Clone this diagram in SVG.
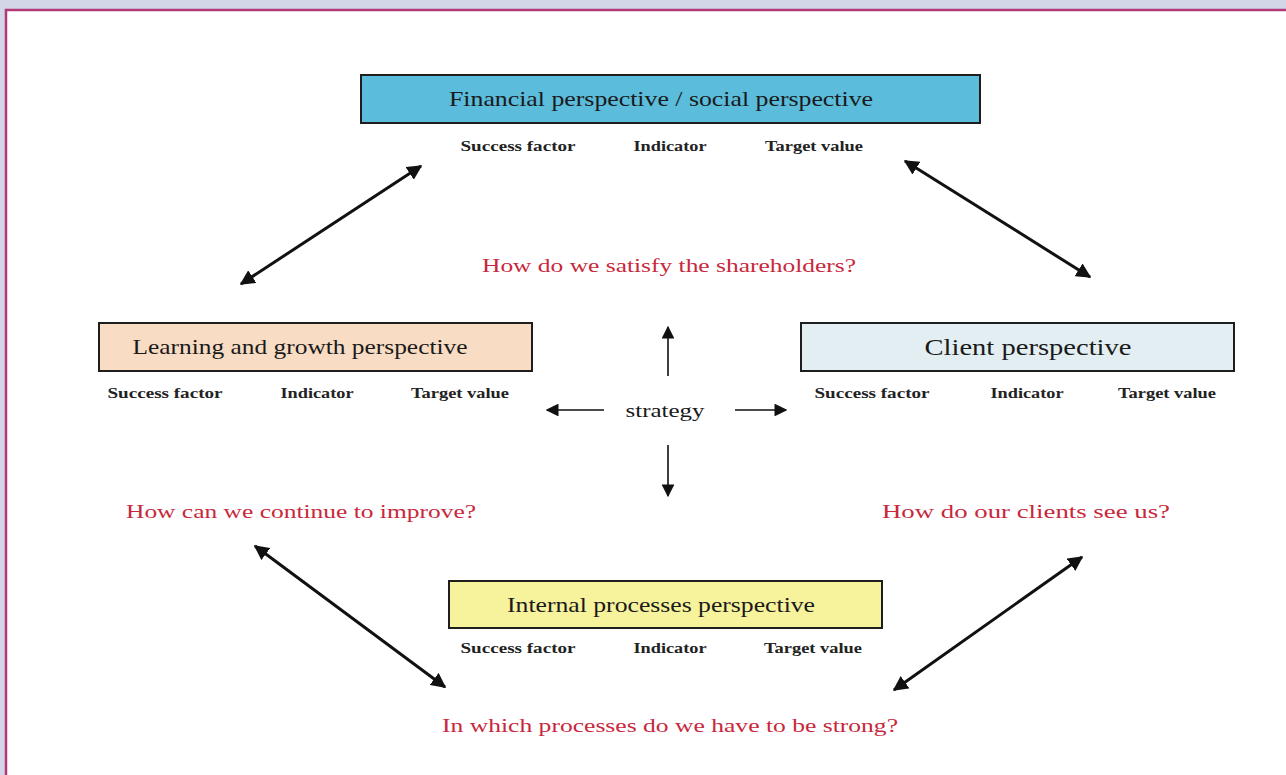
<svg xmlns="http://www.w3.org/2000/svg" width="1286" height="775" viewBox="0 0 1286 775">
<style>
.box{stroke:#1e1e1e;stroke-width:2}
.title{font-family:"Liberation Serif",serif;font-size:21px;fill:#1a1a1a;text-anchor:middle}
.sub{font-family:"Liberation Serif",serif;font-size:15px;font-weight:bold;fill:#222;text-anchor:middle}
.q{font-family:"Liberation Serif",serif;font-size:19px;fill:#c8283c;text-anchor:middle}
.dbl{stroke:#111;stroke-width:3;fill:none;marker-start:url(#ah);marker-end:url(#ah)}
.thin{stroke:#111;stroke-width:1.6;fill:none;marker-end:url(#ah2)}
</style>
<defs>
<marker id="ah" viewBox="0 0 10 10" refX="9" refY="5" markerWidth="5" markerHeight="5" orient="auto-start-reverse" markerUnits="strokeWidth">
<path d="M0,0 L10,5 L0,10 Z" fill="#111"/>
</marker>
<marker id="ah2" viewBox="0 0 10 10" refX="9" refY="5" markerWidth="8" markerHeight="8" orient="auto-start-reverse" markerUnits="strokeWidth">
<path d="M0,0 L10,5 L0,10 Z" fill="#111"/>
</marker>
</defs>
<rect x="0" y="0" width="1286" height="775" fill="#d3d6e6"/>
<rect x="6" y="10" width="1290" height="780" fill="#ffffff" stroke="#b03a78" stroke-width="2.5"/>

<g id="financial">
<rect class="box" x="361" y="75" width="619" height="48" fill="#5bbcdc"/>
<text class="title" x="661" y="106" textLength="424" lengthAdjust="spacingAndGlyphs">Financial perspective / social perspective</text>
<text class="sub" x="518" y="151" textLength="115" lengthAdjust="spacingAndGlyphs">Success factor</text>
<text class="sub" x="670" y="151" textLength="73" lengthAdjust="spacingAndGlyphs">Indicator</text>
<text class="sub" x="814" y="151" textLength="98" lengthAdjust="spacingAndGlyphs">Target value</text>
</g>

<g id="learning">
<rect class="box" x="99" y="323" width="433" height="48" fill="#f8dcc4"/>
<text class="title" x="300" y="354" textLength="335" lengthAdjust="spacingAndGlyphs">Learning and growth perspective</text>
<text class="sub" x="165" y="398" textLength="115" lengthAdjust="spacingAndGlyphs">Success factor</text>
<text class="sub" x="317" y="398" textLength="73" lengthAdjust="spacingAndGlyphs">Indicator</text>
<text class="sub" x="460" y="398" textLength="98" lengthAdjust="spacingAndGlyphs">Target value</text>
</g>

<g id="client">
<rect class="box" x="801" y="323" width="433" height="48" fill="#e2eef2"/>
<text class="title" x="1028" y="355" style="font-size:24px" textLength="207" lengthAdjust="spacingAndGlyphs">Client perspective</text>
<text class="sub" x="872" y="398" textLength="115" lengthAdjust="spacingAndGlyphs">Success factor</text>
<text class="sub" x="1027" y="398" textLength="73" lengthAdjust="spacingAndGlyphs">Indicator</text>
<text class="sub" x="1167" y="398" textLength="98" lengthAdjust="spacingAndGlyphs">Target value</text>
</g>

<g id="internal">
<rect class="box" x="449" y="581" width="433" height="47" fill="#f7f29c"/>
<text class="title" x="661" y="612" textLength="308" lengthAdjust="spacingAndGlyphs">Internal processes perspective</text>
<text class="sub" x="518" y="653" textLength="115" lengthAdjust="spacingAndGlyphs">Success factor</text>
<text class="sub" x="670" y="653" textLength="73" lengthAdjust="spacingAndGlyphs">Indicator</text>
<text class="sub" x="813" y="653" textLength="98" lengthAdjust="spacingAndGlyphs">Target value</text>
</g>

<g id="strategy">
<text class="title" x="665" y="417" style="font-size:19px" textLength="79" lengthAdjust="spacingAndGlyphs">strategy</text>
</g>

<g id="questions">
<text class="q" x="669" y="272" textLength="374" lengthAdjust="spacingAndGlyphs">How do we satisfy the shareholders?</text>
<text class="q" x="301" y="518" textLength="350" lengthAdjust="spacingAndGlyphs">How can we continue to improve?</text>
<text class="q" x="1026" y="518" textLength="288" lengthAdjust="spacingAndGlyphs">How do our clients see us?</text>
<text class="q" x="670" y="732" textLength="456" lengthAdjust="spacingAndGlyphs">In which processes do we have to be strong?</text>
</g>

<g id="connectors">
<line class="dbl" x1="241" y1="284" x2="421" y2="166"/>
<line class="dbl" x1="905" y1="161" x2="1090" y2="277"/>
<line class="dbl" x1="255" y1="546" x2="445" y2="687"/>
<line class="dbl" x1="1082" y1="557" x2="894" y2="690"/>
<line class="thin" x1="668" y1="376" x2="668" y2="327"/>
<line class="thin" x1="668" y1="445" x2="668" y2="496"/>
<line class="thin" x1="604" y1="410" x2="547" y2="410"/>
<line class="thin" x1="735" y1="410" x2="786" y2="410"/>
</g>
</svg>
